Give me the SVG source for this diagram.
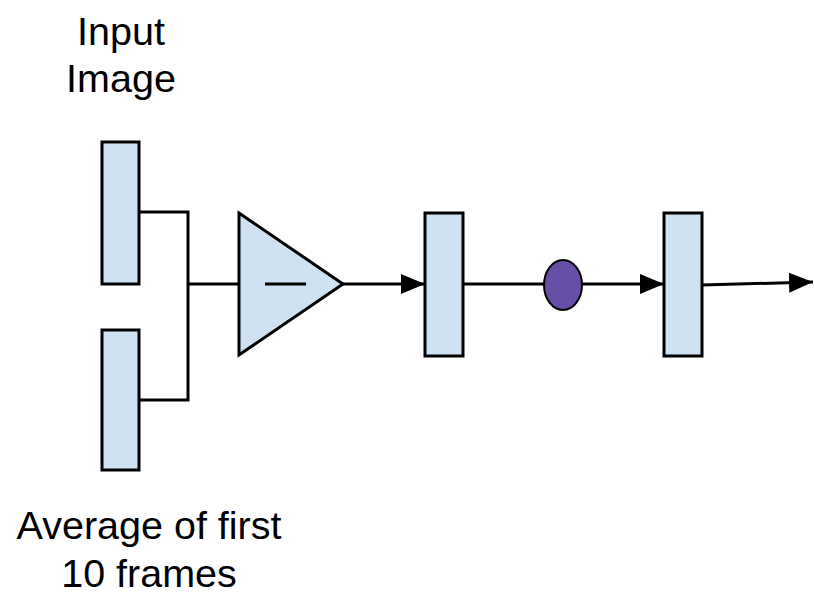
<svg xmlns="http://www.w3.org/2000/svg" width="814" height="596" viewBox="0 0 814 596">
<style>
.box{fill:#cfe2f3;stroke:#000;stroke-width:3}
.ln{fill:none;stroke:#000;stroke-width:3}
.t{font-family:"Liberation Sans",Arial,sans-serif;font-size:39.5px;fill:#000;text-anchor:middle}
</style>
<defs>
<marker id="ah" markerUnits="userSpaceOnUse" markerWidth="26" markerHeight="22" refX="24" refY="11" orient="auto">
<path d="M0,1 L24,11 L0,21 Z" fill="#000"/>
</marker>
</defs>
<rect width="814" height="596" fill="#fff"/>
<g id="connectors">
<path class="ln" d="M139,212 H188 V400 H139"/>
<path class="ln" d="M188,284 H239"/>
<path class="ln" d="M343,284 H425" marker-end="url(#ah)"/>
<path class="ln" d="M463,284 H544"/>
<path class="ln" d="M582,284 H664" marker-end="url(#ah)"/>
<path class="ln" d="M702,285 L813,282" marker-end="url(#ah)"/>
</g>
<g id="input-image">
<rect class="box" x="102" y="142" width="37" height="142"/>
<text class="t" x="121" y="45">Input</text>
<text class="t" x="121" y="92">Image</text>
</g>
<g id="average">
<rect class="box" x="102" y="330" width="37" height="140"/>
<text class="t" x="149" y="539">Average of first</text>
<text class="t" x="149" y="587">10 frames</text>
</g>
<g id="subtract">
<path class="box" d="M239,213 L343,284 L239,355 Z"/>
<path class="ln" d="M265,284 H306"/>
</g>
<g id="block2">
<rect class="box" x="425" y="213" width="38" height="143"/>
</g>
<g id="dot">
<ellipse cx="563" cy="285" rx="19" ry="25" fill="#674ea7" stroke="#000" stroke-width="2"/>
</g>
<g id="block3">
<rect class="box" x="664" y="213" width="38" height="143"/>
</g>
</svg>
